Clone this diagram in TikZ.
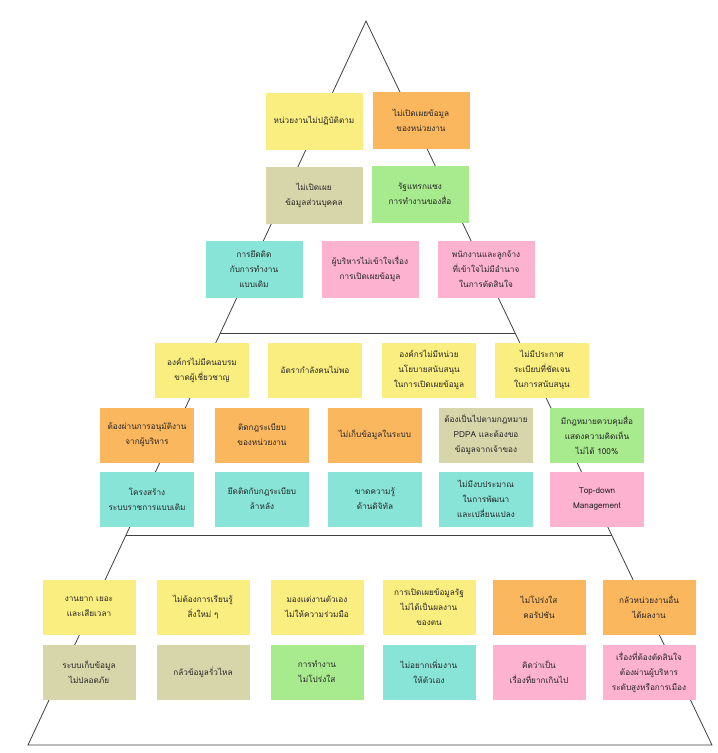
\documentclass[tikz,border=0pt]{standalone}
\usepackage{fontspec}
\newfontfamily\thaifont[Script=Thai]{Loma}
\usetikzlibrary{calc}
\definecolor{noteyellow}{HTML}{FAEE80}
\definecolor{noteorange}{HTML}{FBB75E}
\definecolor{notekhaki}{HTML}{D7D5AA}
\definecolor{notegreen}{HTML}{A8EA8E}
\definecolor{noteteal}{HTML}{88E4D7}
\definecolor{notepink}{HTML}{FDB2D0}
\begin{document}
\begin{tikzpicture}[x=1pt, y=-1pt,
    box/.style={rectangle, minimum width=94pt, minimum height=55pt, inner sep=2pt,
        align=center, text=black!85, font=\thaifont\fontsize{8.2}{15}\selectfont},
    bigbox/.style={box, minimum width=97pt, minimum height=57pt},
    side/.style={draw=black!75, line width=0.8pt}]
    \useasboundingbox[fill=white] (0,0) rectangle (718,753);
    % pyramid
    \coordinate (apex) at (366,21);
    \coordinate (bl) at (28,745);
    \coordinate (br) at (712,745);
    \coordinate (l1) at ($(apex)!0.431!(bl)$);
    \coordinate (r1) at ($(apex)!0.431!(br)$);
    \coordinate (l2) at ($(apex)!0.710!(bl)$);
    \coordinate (r2) at ($(apex)!0.710!(br)$);
    \draw[side] (bl) -- (apex) -- (br) -- cycle;
    \draw[side] (l1) -- (r1);
    \draw[side] (l2) -- (r2);
    % top
    \foreach \n/\x/\y/\c/\txt in {
        t1/314/121/noteyellow/{หน่วยงานไม่ปฏิบัติตาม},
        t2/421/120/noteorange/{ไม่เปิดเผยข้อมูล\\ของหน่วยงาน},
        t3/314/195/notekhaki/{ไม่เปิดเผย\\ข้อมูลส่วนบุคคล},
        t4/420/194/notegreen/{รัฐแทรกแซง\\การทำงานของสื่อ},
        s1/254/269/noteteal/{การยึดติด\\กับการทำงาน\\แบบเดิม},
        s2/370/269/notepink/{ผู้บริหารไม่เข้าใจเรื่อง\\การเปิดเผยข้อมูล},
        s3/486/269/notepink/{พนักงานและลูกจ้าง\\ที่เข้าใจไม่มีอำนาจ\\ในการตัดสินใจ}}
        \node[bigbox, fill=\c] (\n) at (\x,\y) {\txt};
    % middle
    \foreach \n/\x/\y/\c/\txt in {
        a1/202/370/noteyellow/{องค์กรไม่มีคนอบรม\\ขาดผู้เชี่ยวชาญ},
        a2/315/370/noteyellow/{อัตรากำลังคนไม่พอ},
        a3/429/370/noteyellow/{องค์กรไม่มีหน่วย\\นโยบายสนับสนุน\\ในการเปิดเผยข้อมูล},
        a4/542/370/noteyellow/{ไม่มีประกาศ\\ระเบียบที่ชัดเจน\\ในการสนับสนุน},
        b1/147/435/noteorange/{ต้องผ่านการอนุมัติงาน\\จากผู้บริหาร},
        b2/262/435/noteorange/{ติดกฎระเบียบ\\ของหน่วยงาน},
        b3/375/435/noteorange/{ไม่เก็บข้อมูลในระบบ},
        b4/486/435/notekhaki/{ต้องเป็นไปตามกฎหมาย\\PDPA และต้องขอ\\ข้อมูลจากเจ้าของ},
        b5/597/435/notegreen/{มีกฎหมายควบคุมสื่อ\\แสดงความคิดเห็น\\ไม่ได้ 100\%},
        c1/147/499/noteteal/{โครงสร้าง\\ระบบราชการแบบเดิม},
        c2/262/499/noteteal/{ยึดติดกับกฎระเบียบ\\ล้าหลัง},
        c3/375/499/noteteal/{ขาดความรู้\\ด้านดิจิทัล},
        c4/486/499/noteteal/{ไม่มีงบประมาณ\\ในการพัฒนา\\และเปลี่ยนแปลง},
        c5/597/499/notepink/{Top-down\\Management}}
        \node[box, fill=\c] (\n) at (\x,\y) {\txt};
    % bottom
    \foreach \n/\x/\y/\c/\txt in {
        d1/89/607/noteyellow/{งานยาก เยอะ\\และเสียเวลา},
        d2/203/607/noteyellow/{ไม่ต้องการเรียนรู้\\สิ่งใหม่ ๆ},
        d3/317/607/noteyellow/{มองแต่งานตัวเอง\\ไม่ให้ความร่วมมือ},
        d4/429/607/noteyellow/{การเปิดเผยข้อมูลรัฐ\\ไม่ได้เป็นผลงาน\\ของตน},
        d5/539/607/noteorange/{ไม่โปร่งใส\\คอรัปชัน},
        d6/649/607/noteorange/{กลัวหน่วยงานอื่น\\ได้ผลงาน},
        e1/89/672/notekhaki/{ระบบเก็บข้อมูล\\ไม่ปลอดภัย},
        e2/203/672/notekhaki/{กลัวข้อมูลรั่วไหล},
        e3/317/672/notegreen/{การทำงาน\\ไม่โปร่งใส},
        e4/429/672/noteteal/{ไม่อยากเพิ่มงาน\\ให้ตัวเอง},
        e5/539/672/notepink/{คิดว่าเป็น\\เรื่องที่ยากเกินไป},
        e6/649/672/notepink/{เรื่องที่ต้องตัดสินใจ\\ต้องผ่านผู้บริหาร\\ระดับสูงหรือการเมือง}}
        \node[box, minimum width=93pt, fill=\c] (\n) at (\x,\y) {\txt};
\end{tikzpicture}
\end{document}
